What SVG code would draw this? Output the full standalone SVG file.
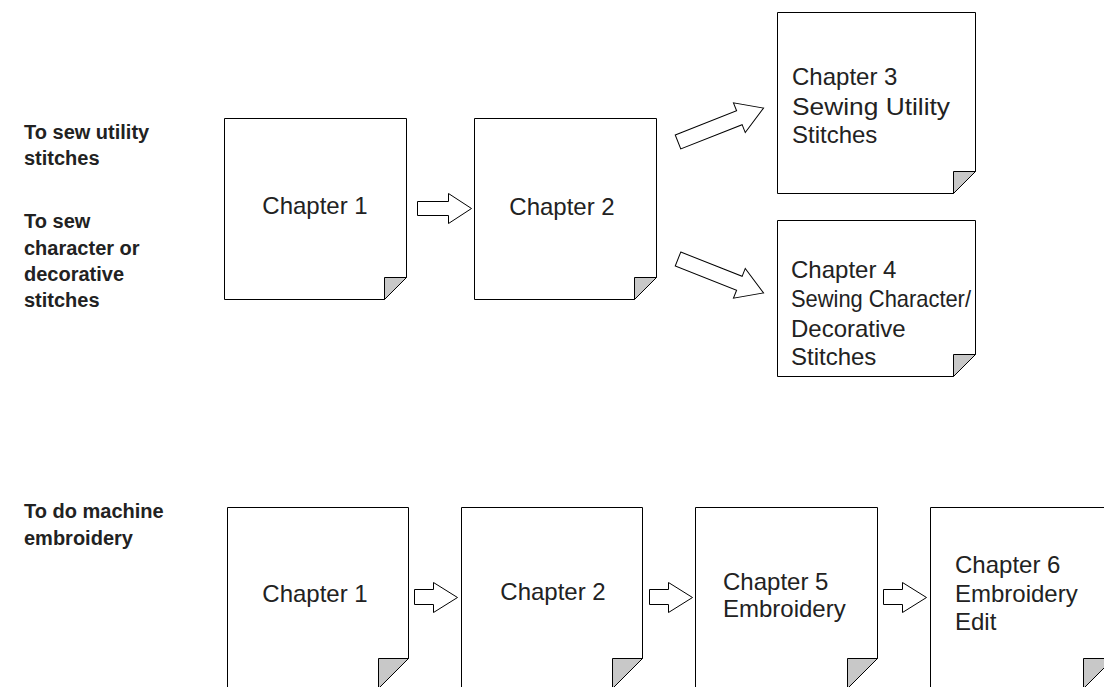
<svg xmlns="http://www.w3.org/2000/svg" width="1104" height="687" viewBox="0 0 1104 687">
<style>
.page{fill:#fff;stroke:#000;stroke-width:1}
.fold{fill:#c8c8c8;stroke:#000;stroke-width:1}
.arrow{fill:#fff;stroke:#000;stroke-width:1}
.t{font-family:"Liberation Sans",Arial,sans-serif;font-size:24px;fill:#222}
.lbl{font-family:"Liberation Sans",Arial,sans-serif;font-size:20px;font-weight:bold;fill:#222}
</style>
<rect width="1104" height="687" fill="#fff"/>
<g id="labels">
<text class="lbl" x="24" y="139">To sew utility</text>
<text class="lbl" x="24" y="165">stitches</text>
<text class="lbl" x="24" y="228">To sew</text>
<text class="lbl" x="24" y="255">character or</text>
<text class="lbl" x="24" y="281">decorative</text>
<text class="lbl" x="24" y="307">stitches</text>
<text class="lbl" x="24" y="518">To do machine</text>
<text class="lbl" x="24" y="545">embroidery</text>
</g>
<g id="node-top-ch1">
<path class="page" d="M224.5 118.5H406.5V277.5L384.5 299.5H224.5Z"/>
<path class="fold" d="M384.5 299.5V277.5H406.5Z"/>
<text class="t" x="315" y="214" text-anchor="middle">Chapter 1</text>
</g>
<g id="node-top-ch2">
<path class="page" d="M474.5 118.5H656.5V277.5L634.5 299.5H474.5Z"/>
<path class="fold" d="M634.5 299.5V277.5H656.5Z"/>
<text class="t" x="562" y="215" text-anchor="middle">Chapter 2</text>
</g>
<g id="node-ch3">
<path class="page" d="M777.5 12.5H975.5V171.5L953.5 193.5H777.5Z"/>
<path class="fold" d="M953.5 193.5V171.5H975.5Z"/>
<text class="t" x="792" y="85">Chapter 3</text>
<text class="t" x="792" y="115" textLength="158" lengthAdjust="spacingAndGlyphs">Sewing Utility</text>
<text class="t" x="792" y="143">Stitches</text>
</g>
<g id="node-ch4">
<path class="page" d="M777.5 220.5H975.5V354.5L953.5 376.5H777.5Z"/>
<path class="fold" d="M953.5 376.5V354.5H975.5Z"/>
<text class="t" x="791" y="278">Chapter 4</text>
<text class="t" x="791" y="307" textLength="180" lengthAdjust="spacingAndGlyphs">Sewing Character/</text>
<text class="t" x="791" y="337">Decorative</text>
<text class="t" x="791" y="365">Stitches</text>
</g>
<g id="node-bot-ch1">
<path class="page" d="M227.5 507.5H408.5V658.5L378.5 688.5H227.5Z"/>
<path class="fold" d="M378.5 688.5V658.5H408.5Z"/>
<text class="t" x="315" y="602" text-anchor="middle">Chapter 1</text>
</g>
<g id="node-bot-ch2">
<path class="page" d="M461.5 507.5H642.5V658.5L612.5 688.5H461.5Z"/>
<path class="fold" d="M612.5 688.5V658.5H642.5Z"/>
<text class="t" x="553" y="600" text-anchor="middle">Chapter 2</text>
</g>
<g id="node-ch5">
<path class="page" d="M695.5 507.5H877.5V658.5L847.5 688.5H695.5Z"/>
<path class="fold" d="M847.5 688.5V658.5H877.5Z"/>
<text class="t" x="723" y="590">Chapter 5</text>
<text class="t" x="723" y="617">Embroidery</text>
</g>
<g id="node-ch6">
<path class="page" d="M930.5 507.5H1113.5V658.5L1083.5 688.5H930.5Z"/>
<path class="fold" d="M1083.5 688.5V658.5H1113.5Z"/>
<text class="t" x="955" y="573">Chapter 6</text>
<text class="t" x="955" y="602">Embroidery</text>
<text class="t" x="955" y="630">Edit</text>
</g>
<defs>
<path id="arr" d="M0 -7.5H66V-16L92 0L66 16V7.5H0Z"/>
</defs>
<g id="connectors">
<path class="arrow" d="M417.5 201.5H448.5V193.5L471.5 208.5L448.5 223.5V215.5H417.5Z"/>
<use href="#arr" class="arrow" transform="translate(678,142) rotate(-21.6)"/>
<use href="#arr" class="arrow" transform="translate(678,259) rotate(21.6)"/>
<path class="arrow" d="M414.5 589.5H433.5V582.5L457.5 597.5L433.5 612.5V604.5H414.5Z"/>
<path class="arrow" d="M649.5 589.5H668.5V582.5L692.5 597.5L668.5 612.5V604.5H649.5Z"/>
<path class="arrow" d="M883.5 589.5H902.5V582.5L926.5 597.5L902.5 612.5V604.5H883.5Z"/>
</g>
</svg>
